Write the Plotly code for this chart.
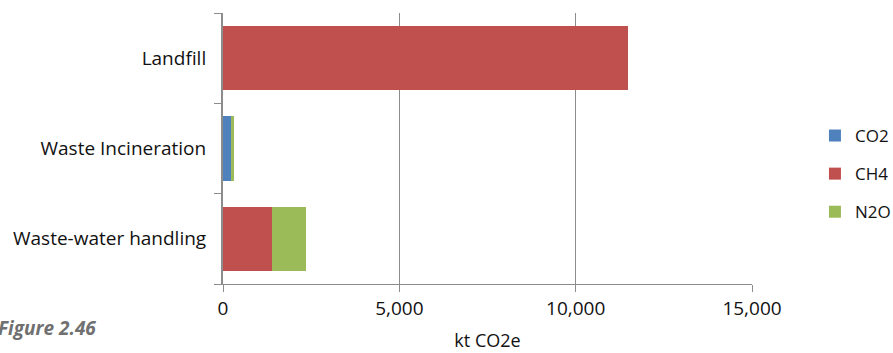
import plotly.graph_objects as go

# Waste sector emissions by gas, kt CO2e
categories = ["Landfill", "Waste Incineration", "Waste-water handling"]
co2 = [0, 245, 0]
ch4 = [11480, 0, 1400]
n2o = [0, 55, 960]
x_ticks = [0, 5000, 10000, 15000]
x_tick_labels = ["0", "5,000", "10,000", "15,000"]

font_family = "'Open Sans', Lato, sans-serif"

fig = go.Figure()
series = [("CO2", co2, "#4F81BD"), ("CH4", ch4, "#C0504D"), ("N2O", n2o, "#9BBB59")]
for name, vals, color in series:
    fig.add_trace(go.Bar(
        y=categories, x=vals, name=name, orientation="h",
        marker=dict(color=color, line=dict(width=0)),
        legendgroup=name,
    ))

fig.update_layout(
    barmode="stack",
    bargap=0.29,
    width=893, height=353,
    margin=dict(l=223, r=141, t=13, b=69, autoexpand=False),
    paper_bgcolor="white", plot_bgcolor="white",
    font=dict(family=font_family, size=19, color="#111"),
    legend=dict(
        x=1.119, xanchor="left", y=0.406, yanchor="middle",
        traceorder="grouped", tracegroupgap=13,
        font=dict(size=17), itemwidth=30,
    ),
    xaxis=dict(
        range=[0, 15000], tickvals=x_ticks, ticktext=x_tick_labels,
        showgrid=True, gridcolor="#8c8c8c", gridwidth=1,
        zeroline=False, showline=True, linecolor="#8c8c8c",
        ticks="outside", ticklen=7, tickcolor="#8c8c8c",
        title=dict(text="kt CO2e", standoff=14, font=dict(size=18)),
    ),
    yaxis=dict(
        categoryorder="array", categoryarray=categories[::-1],
        showline=True, linecolor="#8c8c8c", linewidth=2,
        ticks="outside", ticklen=7, tickcolor="#8c8c8c",
        tickson="boundaries", ticklabelstandoff=11,
        showgrid=False,
    ),
)

fig.add_annotation(
    text="<b><i>Figure 2.46</i></b>", xref="paper", yref="paper",
    x=-0.236, y=-0.162, xanchor="right", yanchor="middle",
    showarrow=False, font=dict(size=19, color="#707070"),
)

fig.write_html("out.html")
